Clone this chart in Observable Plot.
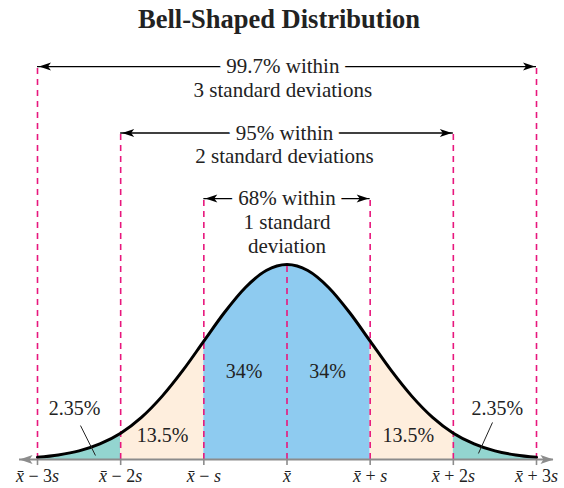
<!DOCTYPE html>
<html>
<head>
<meta charset="utf-8">
<script src="https://cdn.jsdelivr.net/npm/d3@7"></script>
<script src="https://cdn.jsdelivr.net/npm/@observablehq/plot@0.6"></script>
<style>
  html, body { margin: 0; padding: 0; background: white; }
</style>
</head>
<body>
<script>
// ---------- data ----------
const title = "Bell-Shaped Distribution";
// standardized positions (in standard deviations) and relative curve height
const curveZ = [-3, -2.75, -2.5, -2.25, -2, -1.75, -1.5, -1.25, -1, -0.75, -0.5, -0.25, 0,
                 0.25, 0.5, 0.75, 1, 1.25, 1.5, 1.75, 2, 2.25, 2.5, 2.75, 3];
const curveH = [0.011, 0.023, 0.044, 0.080, 0.135, 0.216, 0.325, 0.458, 0.607, 0.755, 0.882, 0.969, 1,
                0.969, 0.882, 0.755, 0.607, 0.458, 0.325, 0.216, 0.135, 0.080, 0.044, 0.023, 0.011];
const tickZ = [-3, -2, -1, 0, 1, 2, 3];
const tickLabels = ["x\u0304 \u2212 3s", "x\u0304 \u2212 2s", "x\u0304 \u2212 s", "x\u0304", "x\u0304 + s", "x\u0304 + 2s", "x\u0304 + 3s"];
const bandLo = [-3, -2, -1, 1, 2];
const bandHi = [-2, -1, 1, 2, 3];
const bandName = ["tail", "mid", "center", "mid", "tail"];
const pctLabels = ["2.35%", "13.5%", "34%", "34%", "13.5%", "2.35%"];
const spanK = [3, 2, 1];
const spanLine1 = ["99.7% within", "95% within", "68% within"];
const spanLine2 = ["3 standard deviations", "2 standard deviations", "1 standard"];
const spanLine3 = ["", "", "deviation"];

// ---------- layout (positions in chart units) ----------
const bandColor = {tail: "#93d5d0", mid: "#feeedd", center: "#8ecbf0"};
const magenta = "#e8177d";
const axisGray = "#8c8c8c";
const pctX = [-2.555, -1.497, -0.517, 0.487, 1.46, 2.53];
const pctY = [0.263, 0.125, 0.45, 0.45, 0.125, 0.263];
const spanLevel = [2.015, 1.674, 1.338];
const spanTextX = [-0.05, -0.03, 0.0];
const lineStep = 0.1215;
const dashAbove = 0.016;
const leaders = [
  {x1: -2.483, y1: 0.174, x2: -2.303, y2: 0.0205},
  {x1: 2.471, y1: 0.19, x2: 2.302, y2: 0.031}
];
const axisEnds = [-3.216, 3.204];
const tickLen = 0.031;
const tickLabelY = -0.088;

// ---------- derived tables ----------
const curve = curveZ.map((z, i) => ({z, h: curveH[i]}));
const bands = bandLo.map((lo, i) => ({lo, hi: bandHi[i], color: bandColor[bandName[i]],
  pts: curve.filter(p => p.z >= lo && p.z <= bandHi[i])}));
const spans = spanK.map((k, i) => ({lo: -k, hi: k, level: spanLevel[i]}));
const spanTexts = spanK.flatMap((k, i) => [spanLine1[i], spanLine2[i], spanLine3[i]]
  .map((t, j) => ({t, row: j, x: spanTextX[i], y: spanLevel[i] - j * lineStep})).filter(d => d.t));
const dashTop = new Map(spans.flatMap(s => [[s.lo, s.level + dashAbove], [s.hi, s.level + dashAbove]]));
const dashes = tickZ.map(z => ({z, top: dashTop.has(z) ? dashTop.get(z) : curveH[curveZ.indexOf(z)]}));
const pcts = pctLabels.map((t, i) => ({t, x: pctX[i], y: pctY[i]}));
const ticks = tickZ.map((z, i) => ({z, label: tickLabels[i]}));

// arrowhead symbols
function head(len, half, notch, dir) {
  return {draw(ctx) {
    ctx.moveTo(0, 0);
    ctx.lineTo(-dir * len, -half);
    ctx.lineTo(-dir * notch, 0);
    ctx.lineTo(-dir * len, half);
    ctx.closePath();
  }};
}
const headR = head(12, 4, 9, 1), headL = head(12, 4, 9, -1);
const gheadR = head(13, 4.5, 10, 1), gheadL = head(13, 4.5, 10, -1);

const chart = Plot.plot({
  width: 564,
  height: 488,
  marginTop: 0, marginRight: 0, marginBottom: 0, marginLeft: 0,
  style: {fontFamily: "'Liberation Serif', 'Times New Roman', serif", background: "white", color: "black"},
  x: {domain: [-3, 3], range: [37, 536], axis: null},
  y: {domain: [0, 1], range: [459, 264], axis: null},
  marks: [
    // shaded bands
    ...bands.map(b => Plot.areaY(b.pts, {x: "z", y: "h", fill: b.color, curve: "monotone-x"})),
    // dashed guides
    Plot.ruleX(dashes, {x: "z", y1: 0, y2: "top", stroke: magenta, strokeWidth: 1.6, strokeDasharray: "6,5"}),
    // bell curve
    Plot.line(curve, {x: "z", y: "h", stroke: "black", strokeWidth: 3, curve: "monotone-x", strokeLinecap: "round"}),
    // horizontal axis with arrows
    Plot.ruleY([0], {x1: axisEnds[0], x2: axisEnds[1], stroke: axisGray, strokeWidth: 2}),
    Plot.ruleX(ticks, {x: "z", y1: 0, y2: -tickLen, stroke: axisGray, strokeWidth: 1.6}),
    Plot.dot([axisEnds[0]], {x: d => d, y: 0, symbol: gheadL, fill: axisGray, stroke: "none"}),
    Plot.dot([axisEnds[1]], {x: d => d, y: 0, symbol: gheadR, fill: axisGray, stroke: "none"}),
    // tick labels
    Plot.text(ticks, {x: "z", y: tickLabelY, text: "label", fontSize: 18, fill: "#222"}),
    // span arrows
    Plot.ruleY(spans, {y: "level", x1: "lo", x2: "hi", stroke: "black", strokeWidth: 1.4}),
    Plot.dot(spans, {x: "lo", y: "level", dx: 1.5, symbol: headL, fill: "black", stroke: "none"}),
    Plot.dot(spans, {x: "hi", y: "level", dx: -1.5, symbol: headR, fill: "black", stroke: "none"}),
    Plot.text(spanTexts.filter(d => d.row === 0), {x: "x", y: "y", text: "t", fontSize: 21, fill: "#222", stroke: "white", strokeWidth: 14}),
    Plot.text(spanTexts.filter(d => d.row > 0), {x: "x", y: "y", text: "t", fontSize: 21, fill: "#222"}),
    // percentages
    Plot.text(pcts, {x: "x", y: "y", text: "t", fontSize: 20, fill: "#222"}),
    Plot.link(leaders, {x1: "x1", y1: "y1", x2: "x2", y2: "y2", stroke: "#222", strokeWidth: 1}),
    // title
    Plot.text([title], {text: d => d, frameAnchor: "top", lineAnchor: "top", fontSize: 26.5, fontWeight: "bold", fill: "#222", dx: -3.5, dy: 9})
  ]
});

// italicize variable letters in tick labels
const labelSet = new Set(tickLabels);
d3.select(chart).selectAll("text").each(function() {
  const s = this.textContent;
  if (!labelSet.has(s)) return;
  const sel = d3.select(this);
  sel.text(null);
  s.split(/(x\u0304|s)/).filter(t => t.length).forEach(t => {
    const ts = sel.append("tspan").text(t);
    if (t === "x\u0304" || t === "s") ts.attr("font-style", "italic");
  });
});

document.body.appendChild(chart);
</script>
</body>
</html>
